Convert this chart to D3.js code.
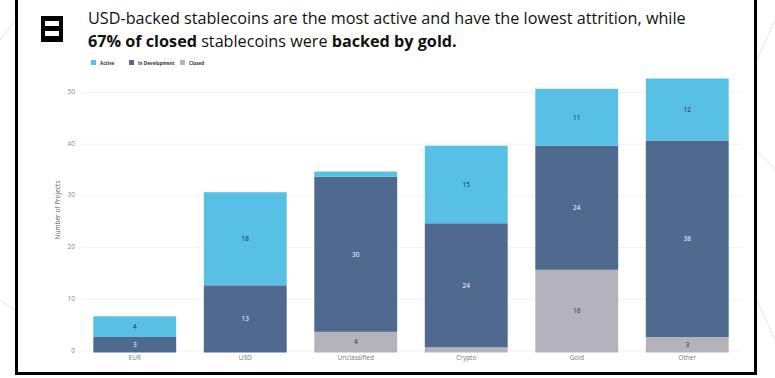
<!DOCTYPE html>
<html><head><meta charset="utf-8">
<script src="https://cdn.jsdelivr.net/npm/d3@7"></script>
<style>
html,body{margin:0;padding:0;background:#fff;}
svg{display:block;font-family:"Open Sans",sans-serif;}
</style></head>
<body>
<svg id="chart" width="775" height="378"></svg>
<script>
const categories = ["EUR","USD","Unclassified","Crypto","Gold","Other"];
const closed =       [0, 0, 4, 1, 16, 3];
const inDevelopment =[3, 13, 30, 24, 24, 38];
const active =       [4, 18, 1, 15, 11, 12];
const seriesNames = ["Closed","In Development","Active"];
const yTicks = [0,10,20,30,40,50];

const colors = {"Active":"#57c0e4","In Development":"#506a8f","Closed":"#b4b3bc"};
const labelColors = {"Active":"#1d2b3d","In Development":"#ffffff","Closed":"#1d2b3d"};

const svg = d3.select("#chart");

// decorative faint background lines outside the frame
const deco = [[0,40,15,20],[0,300,15,310],[757,60,775,20],[757,300,775,340],[757,150,775,170]];
svg.selectAll("line.deco").data(deco).join("line")
  .attr("x1",d=>d[0]).attr("y1",d=>d[1]).attr("x2",d=>d[2]).attr("y2",d=>d[3])
  .attr("stroke","#e6e6e6").attr("stroke-width",1);

// frame
svg.append("rect").attr("x",16.5).attr("y",-10).attr("width",739).attr("height",383.5)
  .attr("fill","#fff").attr("stroke","#000").attr("stroke-width",3);

// icon
const icon = svg.append("g");
icon.append("rect").attr("x",41).attr("y",16).attr("width",22).attr("height",26).attr("fill","#000");
icon.append("rect").attr("x",45).attr("y",21).attr("width",14).attr("height",5).attr("fill","#fff");
icon.append("rect").attr("x",45).attr("y",31).attr("width",14).attr("height",5).attr("fill","#fff");

// title
const t1 = svg.append("text").attr("x",88).attr("y",24).attr("font-size",16.2).attr("fill","#111")
  .text("USD-backed stablecoins are the most active and have the lowest attrition, while");
const t2 = svg.append("text").attr("x",88).attr("y",47).attr("font-size",16.2).attr("fill","#111");
t2.append("tspan").attr("font-weight","bold").text("67% of closed");
t2.append("tspan").text(" stablecoins were ");
t2.append("tspan").attr("font-weight","bold").text("backed by gold.");

// legend
const legendItems = ["Active","In Development","Closed"];
const legendX = [91,129,180];
const lg = svg.selectAll("g.leg").data(legendItems).join("g").attr("class","leg")
  .attr("transform",(d,i)=>`translate(${legendX[i]},60)`);
lg.append("rect").attr("width",5).attr("height",5).attr("fill",d=>colors[d]);
lg.append("text").attr("x",9).attr("y",4.5).attr("font-size",4.6).attr("font-weight",700).attr("fill","#333").text(d=>d);

// scales
const x = d3.scaleBand().domain(categories).range([79.5,742.5]).paddingInner(0.25).paddingOuter(0.125);
const y = d3.scaleLinear().domain([0,50]).range([352.5,94]);

// grid
svg.selectAll("line.grid").data(yTicks).join("line").attr("class","grid")
  .attr("x1",81).attr("x2",742).attr("y1",d=>y(d)-1.5).attr("y2",d=>y(d)-1.5)
  .attr("stroke","#f2f2f2").attr("stroke-width",1);

// y axis
const yAxis = d3.axisLeft(y).tickValues(yTicks).tickSize(0).tickPadding(0);
const ga = svg.append("g").attr("transform","translate(75,-2.5)").call(yAxis);
ga.select(".domain").remove();
ga.selectAll("text").attr("font-size",6.5).attr("fill","#888").attr("font-family","Open Sans");

svg.append("text").attr("transform","translate(60,210) rotate(-90)").attr("text-anchor","middle")
  .attr("font-size",6.5).attr("fill","#666").text("Number of Projects");

// x axis
const xAxis = d3.axisBottom(x).tickSize(0).tickPadding(3);
const gx = svg.append("g").attr("transform",`translate(0,${y(0)})`).call(xAxis);
gx.select(".domain").remove();
gx.selectAll("text").attr("font-size",6.5).attr("fill","#777").attr("font-family","Open Sans");

// stack
const rows = categories.map((c,i)=>({cat:c,"Closed":closed[i],"In Development":inDevelopment[i],"Active":active[i]}));
const stacked = d3.stack().keys(seriesNames)(rows);

const layers = svg.selectAll("g.layer").data(stacked).join("g").attr("class","layer")
  .attr("fill",d=>colors[d.key]);
layers.selectAll("rect").data(d=>d.map(v=>Object.assign(v,{key:d.key}))).join("rect")
  .attr("x",d=>x(d.data.cat)).attr("width",x.bandwidth())
  .attr("y",d=>y(d[1])).attr("height",d=>y(d[0])-y(d[1]));

layers.selectAll("text").data(d=>d.filter(v=>v[1]-v[0]>=3)).join("text")
  .attr("x",d=>x(d.data.cat)+x.bandwidth()/2)
  .attr("y",d=>(y(d[0])+y(d[1]))/2+2.3)
  .attr("text-anchor","middle").attr("font-size",6.5)
  .attr("fill",d=>labelColors[d.key])
  .text(d=>d[1]-d[0]);
</script>
</body></html>
